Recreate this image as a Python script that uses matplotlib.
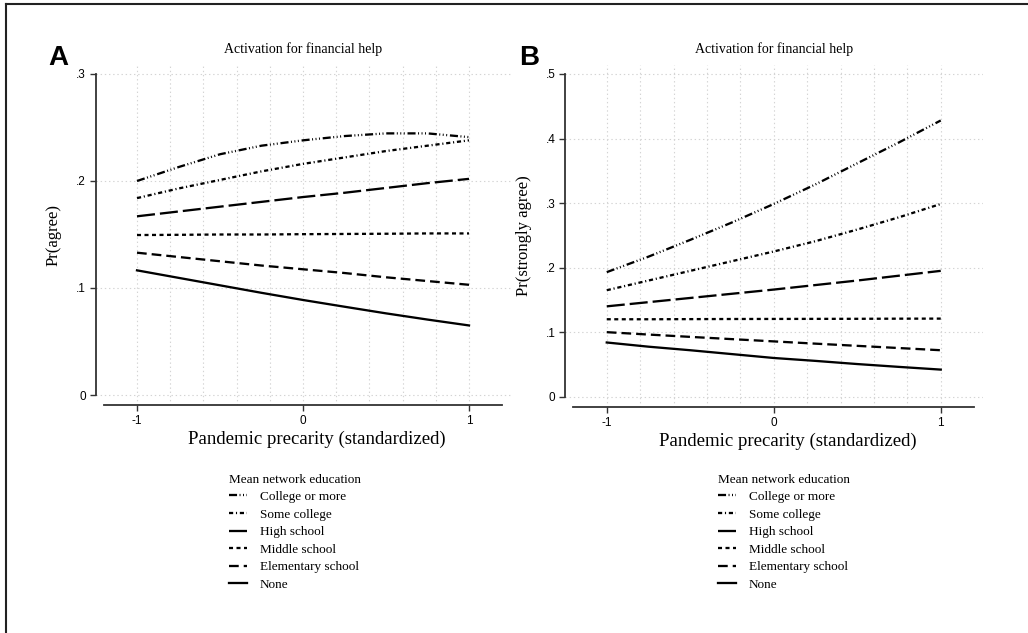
""" predicted probabilities by network education """

import numpy as np
import matplotlib
matplotlib.use("Agg")
import matplotlib.pyplot as plt
from matplotlib.lines import Line2D

plt.rcParams['font.family'] = ['Liberation Serif', 'DejaVu Serif']
plt.rcParams['lines.scale_dashes'] = False

# === 1. data ===
precarity = [-1, -0.75, -0.5, -0.25, 0, 0.25, 0.5, 0.75, 1]
groups = ["College or more", "Some college", "High school",
          "Middle school", "Elementary school", "None"]

agree = {
    "College or more":   [0.200, 0.213, 0.225, 0.233, 0.238, 0.242, 0.2445, 0.2445, 0.241],
    "Some college":      [0.184, 0.193, 0.201, 0.209, 0.216, 0.222, 0.228, 0.233, 0.238],
    "High school":       [0.167, 0.1715, 0.176, 0.1805, 0.185, 0.189, 0.1935, 0.198, 0.202],
    "Middle school":     [0.1495, 0.1497, 0.150, 0.150, 0.1503, 0.1505, 0.1507, 0.151, 0.151],
    "Elementary school": [0.133, 0.129, 0.125, 0.121, 0.1175, 0.114, 0.110, 0.1065, 0.103],
    "None":              [0.1165, 0.1095, 0.1025, 0.0955, 0.0888, 0.0825, 0.0763, 0.0705, 0.065],
}
strongly_agree = {
    "College or more":   [0.193, 0.217, 0.243, 0.270, 0.2986, 0.329, 0.3616, 0.394, 0.428],
    "Some college":      [0.165, 0.180, 0.195, 0.210, 0.225, 0.241, 0.259, 0.278, 0.2986],
    "High school":       [0.140, 0.1465, 0.153, 0.1595, 0.166, 0.173, 0.180, 0.1875, 0.195],
    "Middle school":     [0.120, 0.120, 0.1202, 0.1204, 0.1205, 0.1206, 0.1207, 0.1209, 0.121],
    "Elementary school": [0.100, 0.0963, 0.0927, 0.0892, 0.0857, 0.0822, 0.0788, 0.0754, 0.072],
    "None":              [0.084, 0.0775, 0.072, 0.066, 0.060, 0.0555, 0.0506, 0.0462, 0.042],
}

x_ticks = [-1, 0, 1]
x_ticklabels = ["-1", "0", "1"]
yticks_a = [0, 0.1, 0.2, 0.3]
yticklabels_a = ["0", ".1", ".2", ".3"]
yticks_b = [0, 0.1, 0.2, 0.3, 0.4, 0.5]
yticklabels_b = ["0", ".1", ".2", ".3", ".4", ".5"]

# line patterns (points)
dashes = {
    "College or more":   (5.8, 1.8, 0.7, 1.8, 0.7, 1.8, 0.7, 2.0),
    "Some college":      (3.0, 2.0, 0.8, 2.0),
    "High school":       (13.0, 3.6),
    "Middle school":     (2.9, 2.5),
    "Elementary school": (7.0, 3.6),
    "None":              None,
}

W, H = 1028, 633
fig = plt.figure(figsize=(W / 100, H / 100), dpi=100)


def px_axes(left, right, top, bottom):
    return fig.add_axes([left / W, 1 - bottom / H, (right - left) / W, (bottom - top) / H])


# === 2. panel drawing ===
def draw_panel(ax, data, ylo, yhi, yticks, yticklabels, ylabel):
    for g in groups:
        d = dashes[g]
        if d is None:
            ax.plot(precarity, data[g], color="black", lw=1.65, label=g)
        else:
            ax.plot(precarity, data[g], color="black", lw=1.65, dashes=d,
                    dash_capstyle="butt", label=g)

    ax.set_xlim(-1.25, 1.25)
    ax.set_ylim(ylo, yhi)
    ax.set_xticks(x_ticks)
    ax.set_xticklabels(x_ticklabels)
    ax.set_xticks(np.arange(-1, 1.01, 0.2), minor=True)
    ax.set_yticks(yticks)
    ax.set_yticklabels(yticklabels)
    for t in ax.get_xticklabels() + ax.get_yticklabels():
        t.set_family(["Liberation Sans", "DejaVu Sans"])

    ax.grid(True, which="both", axis="x", color="#d4d4d4", lw=0.8, ls=(0, (1, 2)))
    ax.grid(True, which="major", axis="y", color="#d4d4d4", lw=0.8, ls=(0, (1, 2)))
    ax.set_axisbelow(True)

    for s in ["top", "right"]:
        ax.spines[s].set_visible(False)
    ax.spines["left"].set_bounds(0, yticks[-1])
    ax.spines["bottom"].set_bounds(-1.2, 1.2)
    for s in ["left", "bottom"]:
        ax.spines[s].set_color("#333333")
        ax.spines[s].set_linewidth(1.3)

    ax.tick_params(axis="both", which="major", length=4, width=1, color="#333333",
                   labelsize=8.5, pad=3)
    ax.tick_params(axis="x", which="minor", length=0)
    ax.set_ylabel(ylabel, fontsize=12, labelpad=10)
    ax.set_xlabel("Pandemic precarity (standardized)", fontsize=13.5, labelpad=3)
    ax.xaxis.set_label_coords(0.533, -0.075)
    ax.set_title("Activation for financial help", fontsize=10, pad=9)


ax_a = px_axes(95.5, 510.5, 65, 405)
draw_panel(ax_a, agree, -10 / 1070, 0.3 + 9 / 1070, yticks_a, yticklabels_a, "Pr(agree)")

ax_b = px_axes(565, 982.5, 65, 407)
draw_panel(ax_b, strongly_agree, -10.3 / 646, 0.5 + 9 / 646, yticks_b, yticklabels_b,
           "Pr(strongly agree)")

# === 3. legends ===
for ax, lx in [(ax_a, 222), (ax_b, 711)]:
    leg = ax.legend(title="Mean network education", loc="upper left",
                    bbox_to_anchor=(lx / W, 1 - 467 / H), bbox_transform=fig.transFigure,
                    frameon=False, fontsize=9.5, title_fontsize=9.5, borderpad=0,
                    handlelength=1.4, handletextpad=0.95, labelspacing=0.4,
                    alignment="left")

# === 4. panel letters and frame ===
fig.text(48 / W, 1 - 65 / H, "A", fontsize=20, fontweight="bold",
         family="Liberation Sans", va="baseline", ha="left")
fig.text(519 / W, 1 - 65 / H, "B", fontsize=20, fontweight="bold",
         family="Liberation Sans", va="baseline", ha="left")

fig.add_artist(Line2D([6 / W, 6 / W], [0, 1 - 4 / H], color="#222222", lw=1.5))
fig.add_artist(Line2D([6 / W, 1], [1 - 4 / H, 1 - 4 / H], color="#222222", lw=1.5))

fig.savefig("out.png", dpi=100, facecolor="white")
